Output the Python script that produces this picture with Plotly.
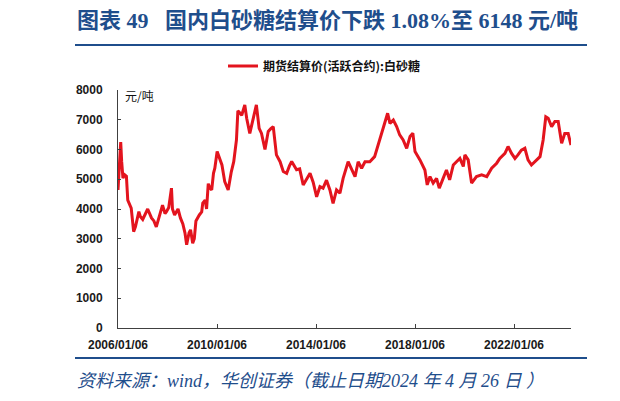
import plotly.graph_objects as go

# ---- data ----
dates = [
    "2006-01-06", "2006-02-15", "2006-03-01", "2006-03-20", "2006-04-15", "2006-05-10", "2006-05-30",
    "2006-07-20", "2006-08-25", "2006-09-20", "2006-11-10", "2006-12-01", "2007-01-06", "2007-02-10",
    "2007-03-20", "2007-05-15", "2007-06-20", "2007-07-25", "2007-09-15", "2007-10-25", "2007-12-01",
    "2007-12-20", "2008-01-25", "2008-03-05", "2008-03-20", "2008-04-20", "2008-06-10", "2008-07-15",
    "2008-08-20", "2008-09-20", "2008-10-15", "2008-11-20", "2008-12-12", "2009-01-12", "2009-02-05",
    "2009-03-01", "2009-04-20", "2009-05-25", "2009-06-10", "2009-07-15", "2009-08-05", "2009-08-30",
    "2009-09-25", "2009-10-20", "2009-11-15", "2009-12-05", "2010-01-08", "2010-02-15", "2010-03-20",
    "2010-04-30", "2010-06-20", "2010-08-05", "2010-09-10", "2010-10-20", "2010-11-10", "2010-11-25",
    "2011-01-06", "2011-02-20", "2011-03-20", "2011-05-05", "2011-06-25", "2011-08-10", "2011-09-20",
    "2011-10-25", "2011-12-15", "2012-02-01", "2012-03-10", "2012-04-15", "2012-06-01", "2012-07-25",
    "2012-09-10", "2012-10-30", "2012-12-10", "2013-01-12", "2013-03-25", "2013-05-10", "2013-07-01",
    "2013-08-20", "2013-10-10", "2013-11-25", "2014-01-15", "2014-03-05", "2014-04-20", "2014-06-10",
    "2014-07-30", "2014-09-15", "2014-11-05", "2014-12-25", "2015-02-10", "2015-04-25", "2015-06-15",
    "2015-08-05", "2015-09-20", "2015-11-10", "2015-12-30", "2016-03-10", "2016-05-20", "2016-07-10",
    "2016-08-30", "2016-10-20", "2016-11-28", "2017-01-01", "2017-02-20", "2017-04-10", "2017-05-25",
    "2017-07-15", "2017-09-05", "2017-10-25", "2017-12-05", "2018-01-06", "2018-03-20", "2018-06-01",
    "2018-07-05", "2018-08-15", "2018-10-01", "2018-11-20", "2018-12-30", "2019-02-25", "2019-04-15",
    "2019-06-01", "2019-07-25", "2019-09-10", "2019-10-30", "2019-12-20", "2020-01-12", "2020-03-01",
    "2020-04-20", "2020-07-01", "2020-09-15", "2020-11-30", "2021-02-10", "2021-04-25", "2021-06-10",
    "2021-08-25", "2021-10-10", "2021-12-01", "2022-01-20", "2022-03-05", "2022-04-25", "2022-06-15",
    "2022-08-01", "2022-09-20", "2022-12-05", "2023-01-25", "2023-03-12", "2023-04-20", "2023-05-25",
    "2023-07-15", "2023-09-01", "2023-10-20", "2023-12-10", "2024-01-25", "2024-03-15", "2024-04-26",
]
sugar_price = [
    4640, 6250, 5600, 5040, 5150, 5100, 4300,
    4030, 3240, 3400, 3910, 3750, 3650, 3800,
    4000, 3700, 3600, 3400, 3850, 4130, 3850,
    3900, 4050, 4700, 4000, 3800, 4000, 3700,
    3500, 3200, 2800, 3200, 3300, 2850, 3000,
    3600, 3800, 3900, 4200, 4300, 4000, 4850,
    4700, 4640, 5200, 5370, 5930, 5700, 5480,
    4920, 4640, 5250, 5590, 6320, 7300, 7270,
    7150, 7500, 7050, 6540, 7100, 7500, 6710,
    6540, 6000, 6610, 6700, 6770, 5820, 5590,
    5260, 5200, 5450, 5600, 5320, 5350, 4810,
    5000, 5200, 4900, 4410, 4750, 4700, 4970,
    4640, 4190, 4640, 4530, 5030, 5590, 5320,
    5090, 5590, 5370, 5590, 5590, 5760, 6150,
    6540, 6880, 7220, 6880, 6990, 6770, 6490,
    6320, 6040, 6440, 6550, 5930, 5650, 5310,
    4810, 5090, 4870, 5030, 4700, 5030, 5310,
    4980, 5480, 5590, 5700, 5430, 5820, 5650,
    4870, 5090, 5150, 5090, 5370, 5540, 5700,
    5870, 6100, 5870, 5700, 5820, 5980, 6040,
    5650, 5480, 5650, 5760, 6320, 7100, 7050,
    6770, 6940, 6940, 6210, 6540, 6540, 6148,
]
series_name = "期货结算价(活跃合约):白砂糖"
x_tick_dates = ["2006-01-06", "2010-01-06", "2014-01-06", "2018-01-06", "2022-01-06"]
x_tick_labels = ["2006/01/06", "2010/01/06", "2014/01/06", "2018/01/06", "2022/01/06"]
y_tick_values = [0, 1000, 2000, 3000, 4000, 5000, 6000, 7000, 8000]

title_text = "图表 49   国内白砂糖结算价下跌 1.08%至 6148 元/吨"
source_text = "资料来源：wind，华创证券（截止日期2024 年 4 月 26 日 ）"

# ---- figure (page body has an 8px margin, so the figure is 612x393) ----
OFF = 8
W, H = 620 - OFF, 401 - OFF
L, R, T, B = 118 - OFF, 49, 90 - OFF, 73
pw, ph = W - L - R, H - T - B

def px_x(p):  # window pixel -> paper x
    return (p - OFF - L) / pw

def px_y(p):  # window pixel -> paper y
    return 1 - (p - OFF - T) / ph

BLUE = "#1F4E8C"
SANS = "Liberation Sans, Arial, Noto Sans CJK SC, sans-serif"
CJK = "Noto Sans CJK SC, sans-serif"

fig = go.Figure()
fig.add_trace(go.Scatter(
    x=dates, y=sugar_price, mode="lines", name=series_name,
    line=dict(color="#E3141E", width=3),
))

fig.update_layout(
    width=W, height=H,
    margin=dict(l=L, r=R, t=T, b=B),
    paper_bgcolor="white", plot_bgcolor="white",
    showlegend=True,
    legend=dict(
        orientation="h", x=px_x(223), y=px_y(66), xanchor="left", yanchor="middle",
        font=dict(family=CJK, size=12, color="#111111", weight="bold"),
        bgcolor="rgba(0,0,0,0)", itemwidth=30,
    ),
    title=dict(
        text=title_text, x=(77 - OFF) / W, xanchor="left", y=1 - (20 - OFF) / H, yanchor="middle",
        font=dict(family="Liberation Serif, Noto Sans CJK SC, serif", size=22, color=BLUE, weight="bold"),
    ),
    xaxis=dict(
        type="date", range=["2006-01-06", "2024-04-26"],
        tickvals=x_tick_dates, ticktext=x_tick_labels,
        ticks="inside", ticklen=4, tickcolor="#404040",
        showline=True, linecolor="#404040", linewidth=1,
        showgrid=False, zeroline=False,
        tickfont=dict(family=SANS, size=12, color="#1a1a1a", weight="bold"),
        ticklabelstandoff=6,
    ),
    yaxis=dict(
        range=[0, 8000], tickvals=y_tick_values,
        ticks="inside", ticklen=3, tickcolor="#404040",
        showline=True, linecolor="#404040", linewidth=1,
        showgrid=False, zeroline=False,
        tickfont=dict(family=SANS, size=12, color="#1a1a1a", weight="bold"),
        ticklabelstandoff=12,
    ),
)

# unit label
fig.add_annotation(
    text="元/吨", xref="paper", yref="paper", x=px_x(123), y=px_y(95),
    xanchor="left", yanchor="middle", showarrow=False,
    font=dict(family=CJK, size=12, color="#111111"),
)
# source note
fig.add_annotation(
    text="<i>" + source_text + "</i>", xref="paper", yref="paper", x=px_x(75), y=px_y(381),
    xanchor="left", yanchor="middle", showarrow=False,
    font=dict(family="Liberation Serif, Noto Sans CJK SC, serif", size=18, color=BLUE),
)
# header / footer rules
for yy in (45, 358):
    fig.add_shape(type="line", xref="paper", yref="paper",
                  x0=px_x(75), x1=px_x(587), y0=px_y(yy), y1=px_y(yy),
                  line=dict(color=BLUE, width=2))
    fig.add_shape(type="line", xref="paper", yref="paper",
                  x0=px_x(613), x1=px_x(621), y0=px_y(yy), y1=px_y(yy),
                  line=dict(color=BLUE, width=2))
# edge of the neighbouring panel's title glyph
fig.add_shape(type="rect", xref="paper", yref="paper",
              x0=px_x(616), x1=px_x(619), y0=px_y(29), y1=px_y(12),
              line=dict(width=0), fillcolor=BLUE)

fig.write_html("out.html")
